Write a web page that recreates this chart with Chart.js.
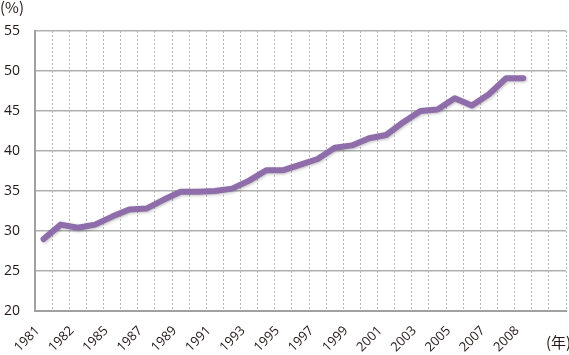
<!DOCTYPE html>
<html>
<head>
<meta charset="utf-8">
<script src="https://cdn.jsdelivr.net/npm/chart.js@4"></script>
<style>
    body { margin: 0; background: #fff; }
    #wrap { width: 569px; height: 355px; }
</style>
</head>
<body>
<div id="wrap"><canvas id="rateChart" width="569" height="355"></canvas></div>
<script>
// data (one category per year, labels every second slot)
const yearSlots = ['1981','1982','1983','1984','1985','1986','1987','1988','1989','1990',
    '1991','1992','1993','1994','1995','1996','1997','1998','1999','2000',
    '2001','2002','2003','2004','2005','2006','2007','2008','2009','2010','2011'];
const tickLabels = ['1981','','1982','','1985','','1987','','1989','','1991','','1993','','1995','',
    '1997','','1999','','2001','','2003','','2005','','2007','','2008','',''];
const rateValues = [29.0, 30.8, 30.4, 30.8, 31.8, 32.7, 32.8, 33.9, 34.9, 34.9,
    35.0, 35.3, 36.3, 37.6, 37.6, 38.3, 39.0, 40.4, 40.7, 41.6,
    42.0, 43.6, 45.0, 45.2, 46.6, 45.7, 47.1, 49.1, 49.1];
const yTicks = [20, 25, 30, 35, 40, 45, 50, 55];

const textColor = '#231815';
const fontFamily = '"Open Sans", "Noto Sans", sans-serif';

// unit labels drawn as text on the canvas
const unitLabels = {
    id: 'unitLabels',
    afterDraw(chart) {
        const ctx = chart.ctx;
        ctx.save();
        ctx.fillStyle = textColor;
        ctx.font = '15px "Noto Sans CJK JP", ' + fontFamily;
        ctx.textBaseline = 'top';
        ctx.textAlign = 'left';
        ctx.fillText('(%)', 0, 0);
        ctx.fillText('(年)', 546, 335);
        ctx.restore();
    }
};

// soft shadow under the line
const lineShadow = {
    id: 'lineShadow',
    beforeDatasetDraw(chart) {
        const ctx = chart.ctx;
        ctx.save();
        ctx.shadowColor = 'rgba(0,0,0,0.25)';
        ctx.shadowBlur = 3;
        ctx.shadowOffsetX = 1;
        ctx.shadowOffsetY = 1;
    },
    afterDatasetDraw(chart) {
        chart.ctx.restore();
    }
};

const rateChart = new Chart(document.getElementById('rateChart'), {
    type: 'line',
    data: {
        labels: yearSlots,
        datasets: [{
            data: rateValues,
            borderColor: '#8f6caa',
            borderWidth: 6,
            borderCapStyle: 'round',
            borderJoinStyle: 'round',
            pointRadius: 0,
            tension: 0,
            fill: false
        }]
    },
    options: {
        responsive: false,
        animation: false,
        layout: { padding: { top: 31, right: 3, left: 0, bottom: 0 } },
        plugins: {
            legend: { display: false },
            tooltip: { enabled: false }
        },
        scales: {
            x: {
                offset: true,
                grid: {
                    offset: true,
                    color: '#b8b8b8',
                    lineWidth: 1,
                    drawTicks: false
                },
                border: { display: true, color: '#a0a0a0', width: 2, dash: [2, 2] },
                ticks: {
                    autoSkip: false,
                    maxRotation: 45,
                    minRotation: 45,
                    padding: 12,
                    labelOffset: -6,
                    color: textColor,
                    font: { family: fontFamily, size: 13 },
                    callback: (v, i) => tickLabels[i]
                },
                afterFit: scale => {
                    scale.height = 44;
                    // rotated labels would otherwise push the plot in from the right
                    scale.paddingLeft = 0;
                    scale.paddingRight = 0;
                }
            },
            y: {
                min: 20,
                max: 55,
                afterBuildTicks: scale => { scale.ticks = yTicks.map(v => ({ value: v })); },
                grid: {
                    color: '#b0b0b0',
                    lineWidth: 1.5,
                    drawTicks: false
                },
                border: { display: true, color: '#a0a0a0', width: 2 },
                ticks: {
                    padding: 15,
                    color: textColor,
                    font: { family: fontFamily, size: 14 }
                },
                afterFit: scale => { scale.width = 35; }
            }
        }
    },
    plugins: [unitLabels, lineShadow]
});
</script>
</body>
</html>
